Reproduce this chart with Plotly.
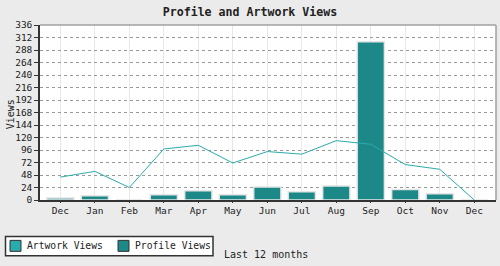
import plotly.graph_objects as go

months = ["Dec", "Jan", "Feb", "Mar", "Apr", "May", "Jun", "Jul", "Aug", "Sep", "Oct", "Nov", "Dec"]
artwork_views = [44, 55, 24, 98, 105, 71, 93, 88, 114, 107, 68, 59, 0]
profile_views = [4, 8, 0, 10, 18, 10, 25, 16, 27, 304, 20, 12, 0]
y_ticks = list(range(0, 337, 24))

xpos = list(range(len(months)))
FONT = "DejaVu Sans Mono"
ART_C = "#2aacac"
PROF_C = "#1c8888"
W, H = 500, 266
ML, MR, MT, MB = 40, 4, 24.5, 66

fig = go.Figure()
fig.add_trace(go.Scatter(x=xpos, y=artwork_views, mode="lines", name="Artwork Views",
                         line=dict(color=ART_C, width=1), showlegend=False))
fig.add_trace(go.Bar(x=xpos, y=profile_views, name="Profile Views", width=0.79,
                     marker=dict(color=PROF_C, line=dict(color="#e6e6e6", width=1.5)),
                     showlegend=False))

fig.update_layout(
    width=W, height=H,
    margin=dict(l=ML, r=MR, t=MT, b=MB, autoexpand=False),
    paper_bgcolor="#ebebeb", plot_bgcolor="white",
    font=dict(family=FONT, size=10, color="#222222"),
    title=dict(text="<b>Profile and Artwork Views</b>", x=0.5, xanchor="center",
               y=1 - 12 / H, yanchor="middle", font=dict(family=FONT, size=11.6, color="#222222")),
    showlegend=False,
    xaxis=dict(tickmode="array", tickvals=xpos, ticktext=months, range=[-0.59, 12.63],
               showgrid=True, gridcolor="#e8e8e8", gridwidth=1, automargin=False,
               showline=True, linecolor="#333333", linewidth=1.5,
               ticks="outside", ticklen=1, tickcolor="#333333",
               tickfont=dict(family=FONT, size=9.5), zeroline=False),
    yaxis=dict(range=[0, 336], tickmode="array", tickvals=y_ticks, automargin=False,
               showgrid=True, gridcolor="#999999", griddash="dot", gridwidth=1,
               showline=True, linecolor="#333333", linewidth=1.5,
               ticks="outside", ticklen=4, tickcolor="#333333",
               tickfont=dict(family=FONT, size=9.5), zeroline=False),
)

pw = W - ML - MR
ph = H - MT - MB


def cx(x):  # container px -> paper x
    return (x - ML) / pw


def cy(y):  # container px -> paper y
    return (H - MB - y) / ph


legend_items = [("Artwork Views", ART_C, 10, 25), ("Profile Views", PROF_C, 118, 133)]
shapes = [
    dict(type="line", xref="paper", yref="paper", x0=0, x1=1, y0=1, y1=1,
         line=dict(color="#a0a0a0", width=1.5)),
    dict(type="line", xref="paper", yref="paper", x0=1, x1=1, y0=0, y1=1,
         line=dict(color="#a0a0a0", width=1.5)),
    dict(type="rect", xref="paper", yref="paper", x0=cx(5.5), x1=cx(213), y0=cy(236.5), y1=cy(256),
         fillcolor="white", line=dict(color="#333333", width=1.5), layer="above"),
]
annotations = []
for name, col, sx, tx in legend_items:
    shapes.append(dict(type="rect", xref="paper", yref="paper", x0=cx(sx), x1=cx(sx + 11),
                       y0=cy(240.5), y1=cy(251.5), fillcolor=col,
                       line=dict(color="#333333", width=1), layer="above"))
    annotations.append(dict(text=name, xref="paper", yref="paper", x=cx(tx), y=cy(246),
                            xanchor="left", yanchor="middle", showarrow=False,
                            font=dict(family=FONT, size=9.7, color="#222222")))
annotations.append(dict(text="Last 12 months", xref="paper", yref="paper", x=cx(266), y=cy(255),
                        xanchor="center", yanchor="middle", showarrow=False,
                        font=dict(family=FONT, size=10, color="#222222")))
annotations.append(dict(text="Views", xref="paper", yref="paper", x=cx(10), y=cy(114),
                        xanchor="center", yanchor="middle", showarrow=False, textangle=-90,
                        font=dict(family=FONT, size=10, color="#222222")))
fig.update_layout(shapes=shapes, annotations=annotations)

fig.write_html("out.html")
